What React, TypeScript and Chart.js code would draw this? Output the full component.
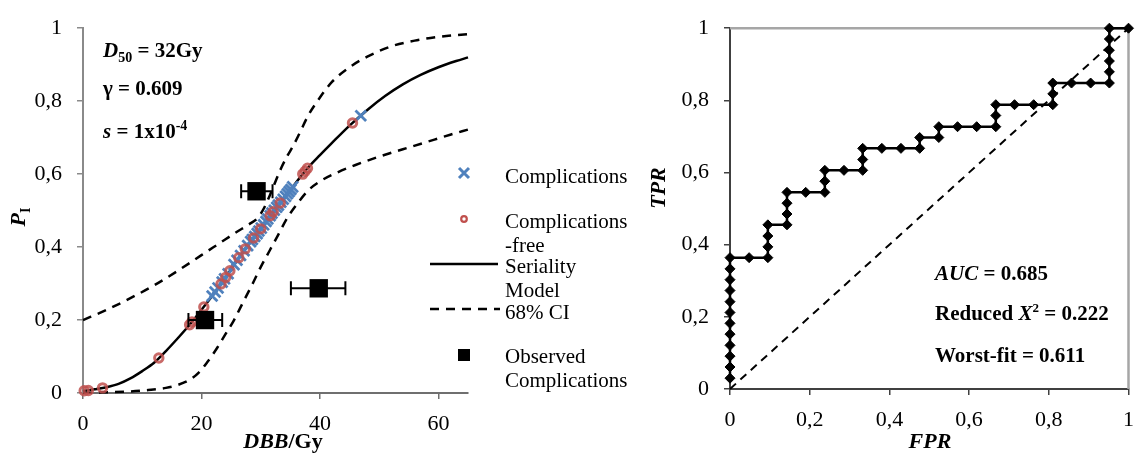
import React, { useEffect, useRef } from 'react';
import { Chart, registerables } from 'chart.js';

Chart.register(...registerables);

// ---------------- Data (left: dose–response) ----------------
const leftXTicks = [0, 20, 40, 60];
const probTicks = [0, 0.2, 0.4, 0.6, 0.8, 1];

const modelDose = [0, 2, 4, 6, 8, 10, 12, 14, 16, 18, 20, 22, 24, 26, 28, 30, 32, 34, 36, 38, 40, 42, 45, 48, 51, 54, 57, 60, 63, 65];
const modelProb = [0.005, 0.010, 0.016, 0.025, 0.040, 0.060, 0.083, 0.115, 0.150, 0.187, 0.228, 0.270, 0.315, 0.364, 0.408, 0.450, 0.495, 0.535, 0.578, 0.618, 0.652, 0.685, 0.733, 0.776, 0.814, 0.846, 0.872, 0.893, 0.910, 0.920];

const ciUpperDose = [0, 4, 8, 12, 16, 20, 23, 26, 28, 29.5, 30.5, 31.5, 32.5, 33.5, 34.5, 35.5, 36.5, 38, 40, 42, 45, 48, 52, 56, 60, 65];
const ciUpperProb = [0.2, 0.228, 0.26, 0.295, 0.335, 0.378, 0.41, 0.442, 0.462, 0.48, 0.505, 0.54, 0.58, 0.618, 0.65, 0.678, 0.71, 0.76, 0.81, 0.852, 0.893, 0.922, 0.95, 0.966, 0.976, 0.984];

const ciLowerDose = [0, 4, 8, 11, 14, 16, 18, 19.5, 21, 22.5, 24, 25.5, 27, 28.5, 30, 31.5, 33, 34.5, 36, 38, 40, 43, 46, 50, 54, 58, 62, 65];
const ciLowerProb = [0, 0.002, 0.004, 0.008, 0.014, 0.022, 0.036, 0.055, 0.085, 0.12, 0.16, 0.2, 0.248, 0.295, 0.345, 0.39, 0.435, 0.48, 0.515, 0.555, 0.58, 0.605, 0.625, 0.648, 0.668, 0.688, 0.708, 0.722];

const compDose = [21.8, 22.3, 22.8, 23.5, 23.9, 24.5, 25.5, 26.0, 26.6, 27.2, 27.8, 28.3, 28.6, 29.0, 29.4, 29.7, 30.1, 30.5, 30.9, 31.2, 31.6, 31.9, 32.3, 32.7, 33.0, 33.4, 33.8, 34.2, 34.5, 34.8, 35.1, 35.4, 46.9];
const compProb = [0.266, 0.277, 0.288, 0.304, 0.313, 0.327, 0.352, 0.364, 0.377, 0.390, 0.404, 0.415, 0.421, 0.429, 0.437, 0.444, 0.452, 0.461, 0.470, 0.477, 0.486, 0.493, 0.501, 0.509, 0.515, 0.523, 0.531, 0.539, 0.546, 0.552, 0.558, 0.565, 0.760];

const freeDose = [0.2, 0.9, 3.3, 12.8, 18.0, 18.4, 20.4, 23.3, 24.1, 24.8, 26.3, 27.4, 28.8, 30.0, 31.6, 32.1, 33.3, 37.1, 37.5, 37.9, 45.5];
const freeProb = [0.006, 0.007, 0.014, 0.096, 0.187, 0.195, 0.236, 0.299, 0.317, 0.335, 0.371, 0.395, 0.425, 0.450, 0.486, 0.497, 0.521, 0.600, 0.608, 0.616, 0.740];

const obsDose = [20.6, 29.3, 39.8];
const obsProb = [0.20, 0.553, 0.287];
const obsDoseLow = [17.8, 26.7, 35.1];
const obsDoseHigh = [23.5, 32.0, 44.3];

// ---------------- Data (right: ROC) ----------------
const rateTicks = [0, 0.2, 0.4, 0.6, 0.8, 1];
const rocFPR = [
  0, 0, 0, 0, 0, 0, 0, 0, 0, 0, 0, 0,
  0.048, 0.095,
  0.095, 0.095, 0.095,
  0.143, 0.143, 0.143, 0.143,
  0.190, 0.238,
  0.238, 0.238,
  0.286, 0.333,
  0.333, 0.333,
  0.381, 0.429, 0.476,
  0.476,
  0.524,
  0.524,
  0.571, 0.619, 0.667,
  0.667, 0.667,
  0.714, 0.762, 0.810,
  0.810, 0.810,
  0.857, 0.905, 0.952,
  0.952, 0.952, 0.952, 0.952, 0.952,
  1,
];
const rocTPR = [
  0.030, 0.061, 0.091, 0.121, 0.152, 0.182, 0.212, 0.242, 0.273, 0.303, 0.333, 0.364,
  0.364, 0.364,
  0.394, 0.424, 0.455,
  0.455, 0.485, 0.515, 0.545,
  0.545, 0.545,
  0.576, 0.606,
  0.606, 0.606,
  0.636, 0.667,
  0.667, 0.667, 0.667,
  0.697,
  0.697,
  0.727,
  0.727, 0.727, 0.727,
  0.758, 0.788,
  0.788, 0.788, 0.788,
  0.818, 0.848,
  0.848, 0.848, 0.848,
  0.879, 0.909, 0.939, 0.970, 1,
  1,
];
const chanceFPR = [0, 1];
const chanceTPR = [0, 1];

// ---------------- helpers ----------------
const SERIF = '"Liberation Serif", "Times New Roman", serif';
const fnt = (style: string, size: number) => `${style} ${size}px ${SERIF}`;
const pts = (xs: number[], ys: number[]) => xs.map((x, i) => ({ x, y: ys[i] }));
const commaLabel = (v: number) => (v === 0 ? '0' : v === 1 ? '1' : v.toFixed(1).replace('.', ','));

type Seg = { t: string; font: string; dy?: number };
function drawRich(ctx: CanvasRenderingContext2D, x: number, y: number, segs: Seg[], align: 'left' | 'center' = 'left') {
  ctx.textAlign = 'left';
  ctx.textBaseline = 'alphabetic';
  let w = 0;
  segs.forEach((s) => {
    ctx.font = s.font;
    w += ctx.measureText(s.t).width;
  });
  let cx = align === 'center' ? x - w / 2 : x;
  segs.forEach((s) => {
    ctx.font = s.font;
    ctx.fillText(s.t, cx, y + (s.dy || 0));
    cx += ctx.measureText(s.t).width;
  });
}

const tickFont = { family: SERIF, size: 22 };

function DoseResponseChart() {
  const ref = useRef<HTMLCanvasElement>(null);
  useEffect(() => {
    const canvas = ref.current!;
    const overlay = {
      id: 'leftOverlay',
      afterDatasetsDraw(chart: any) {
        const ctx = chart.ctx as CanvasRenderingContext2D;
        const xs = chart.scales.x;
        const ys = chart.scales.y;
        ctx.save();
        ctx.strokeStyle = '#000';
        ctx.lineWidth = 2;
        obsDose.forEach((_, i) => {
          const y = ys.getPixelForValue(obsProb[i]);
          const x1 = xs.getPixelForValue(obsDoseLow[i]);
          const x2 = xs.getPixelForValue(obsDoseHigh[i]);
          ctx.beginPath();
          ctx.moveTo(x1, y);
          ctx.lineTo(x2, y);
          ctx.moveTo(x1, y - 7);
          ctx.lineTo(x1, y + 7);
          ctx.moveTo(x2, y - 7);
          ctx.lineTo(x2, y + 7);
          ctx.stroke();
        });
        ctx.restore();
      },
      afterDraw(chart: any) {
        const ctx = chart.ctx as CanvasRenderingContext2D;
        ctx.save();
        ctx.fillStyle = '#000';
        // parameter annotations
        drawRich(ctx, 103, 57, [
          { t: 'D', font: fnt('italic bold', 21) },
          { t: '50', font: fnt('bold', 14), dy: 5 },
          { t: ' = 32Gy', font: fnt('bold', 21) },
        ]);
        drawRich(ctx, 103, 95, [{ t: 'γ = 0.609', font: fnt('bold', 21) }]);
        drawRich(ctx, 103, 138, [
          { t: 's', font: fnt('italic bold', 21) },
          { t: ' = 1x10', font: fnt('bold', 21) },
          { t: '-4', font: fnt('bold', 14), dy: -8 },
        ]);
        // axis titles
        drawRich(ctx, 283, 448, [
          { t: 'DBB', font: fnt('italic bold', 22) },
          { t: '/Gy', font: fnt('bold', 22) },
        ], 'center');
        ctx.save();
        ctx.translate(25, 217);
        ctx.rotate(-Math.PI / 2);
        drawRich(ctx, 0, 0, [
          { t: 'P', font: fnt('italic bold', 22) },
          { t: 'I', font: fnt('bold', 14), dy: 5 },
        ], 'center');
        ctx.restore();

        // legend
        const lx = 464;
        const tx = 505;
        const lf = fnt('normal', 21);
        ctx.strokeStyle = '#4f81bd';
        ctx.lineWidth = 3;
        ctx.beginPath();
        ctx.moveTo(lx - 5, 168); ctx.lineTo(lx + 5, 178);
        ctx.moveTo(lx + 5, 168); ctx.lineTo(lx - 5, 178);
        ctx.stroke();
        drawRich(ctx, tx, 183, [{ t: 'Complications', font: lf }]);

        ctx.strokeStyle = '#c0504d';
        ctx.lineWidth = 2.2;
        ctx.beginPath();
        ctx.arc(lx, 219, 2.8, 0, Math.PI * 2);
        ctx.stroke();
        drawRich(ctx, tx, 228, [{ t: 'Complications', font: lf }]);
        drawRich(ctx, tx, 252, [{ t: '-free', font: lf }]);

        ctx.strokeStyle = '#000';
        ctx.lineWidth = 2.5;
        ctx.beginPath();
        ctx.moveTo(430, 264); ctx.lineTo(498, 264);
        ctx.stroke();
        drawRich(ctx, tx, 273, [{ t: 'Seriality', font: lf }]);
        drawRich(ctx, tx, 297, [{ t: 'Model', font: lf }]);

        ctx.setLineDash([9, 7]);
        ctx.beginPath();
        ctx.moveTo(430, 309); ctx.lineTo(500, 309);
        ctx.stroke();
        ctx.setLineDash([]);
        drawRich(ctx, tx, 319, [{ t: '68% CI', font: lf }]);

        ctx.fillRect(458, 349, 12, 12);
        drawRich(ctx, tx, 363, [{ t: 'Observed', font: lf }]);
        drawRich(ctx, tx, 387, [{ t: 'Complications', font: lf }]);
        ctx.restore();
      },
    };

    const chart = new Chart(canvas, {
      type: 'scatter',
      data: {
        datasets: [
          {
            label: 'Observed Complications',
            data: pts(obsDose, obsProb),
            pointStyle: 'rect',
            pointRadius: 13,
            pointBackgroundColor: '#000',
            pointBorderColor: '#000',
            pointBorderWidth: 0,
            order: 0,
            clip: false,
          },
          {
            label: 'Complications-free',
            data: pts(freeDose, freeProb),
            pointStyle: 'circle',
            pointRadius: 4.2,
            pointBorderWidth: 3,
            pointBorderColor: 'rgba(192,80,77,0.85)',
            pointBackgroundColor: 'rgba(0,0,0,0)',
            order: 1,
            clip: false,
          },
          {
            label: 'Complications',
            data: pts(compDose, compProb),
            pointStyle: 'crossRot',
            pointRadius: 7.5,
            pointBorderWidth: 2.8,
            pointBorderColor: '#4f81bd',
            order: 2,
            clip: false,
          },
          {
            label: 'Seriality Model',
            data: pts(modelDose, modelProb),
            showLine: true,
            borderColor: '#000',
            borderWidth: 2.5,
            pointRadius: 0,
            cubicInterpolationMode: 'monotone',
            order: 3,
            clip: false,
          },
          {
            label: '68% CI upper',
            data: pts(ciUpperDose, ciUpperProb),
            showLine: true,
            borderColor: '#000',
            borderWidth: 2.5,
            borderDash: [9, 7],
            pointRadius: 0,
            cubicInterpolationMode: 'monotone',
            order: 4,
            clip: false,
          },
          {
            label: '68% CI lower',
            data: pts(ciLowerDose, ciLowerProb),
            showLine: true,
            borderColor: '#000',
            borderWidth: 2.5,
            borderDash: [9, 7],
            pointRadius: 0,
            cubicInterpolationMode: 'monotone',
            order: 5,
            clip: false,
          },
        ] as any,
      },
      options: {
        animation: false,
        responsive: false,
        maintainAspectRatio: false,
        devicePixelRatio: 1,
        events: [],
        layout: { padding: { left: 0, right: 162, top: 24, bottom: 0 } },
        plugins: { legend: { display: false }, tooltip: { enabled: false } },
        scales: {
          x: {
            type: 'linear',
            min: 0,
            max: 65,
            afterBuildTicks: (s: any) => { s.ticks = leftXTicks.map((v) => ({ value: v })); },
            afterFit: (s: any) => { s.height = 61; },
            grid: { display: true, drawOnChartArea: false, drawTicks: true, tickLength: 6, color: '#6f6f6f', lineWidth: 1.5 },
            border: { display: true, color: '#6f6f6f', width: 2 },
            ticks: { font: tickFont, color: '#000', padding: 12, maxRotation: 0, callback: (v: any) => String(v) },
          },
          y: {
            type: 'linear',
            min: 0,
            max: 1,
            afterBuildTicks: (s: any) => { s.ticks = probTicks.map((v) => ({ value: v })); },
            afterFit: (s: any) => { s.width = 83; },
            grid: { display: true, drawOnChartArea: false, drawTicks: true, tickLength: 6, color: '#8a8a8a', lineWidth: 1.5 },
            border: { display: true, color: '#8a8a8a', width: 2 },
            ticks: { font: tickFont, color: '#000', padding: 15, callback: (v: any) => commaLabel(Number(v)) },
          },
        },
      } as any,
      plugins: [overlay],
    });
    return () => chart.destroy();
  }, []);
  return <canvas ref={ref} width={630} height={454} style={{ display: 'block', width: 630, height: 454 }} />;
}

function RocChart() {
  const ref = useRef<HTMLCanvasElement>(null);
  useEffect(() => {
    const canvas = ref.current!;
    const overlay = {
      id: 'rocOverlay',
      beforeDatasetsDraw(chart: any) {
        const ctx = chart.ctx as CanvasRenderingContext2D;
        const a = chart.chartArea;
        ctx.save();
        ctx.strokeStyle = '#a6a6a6';
        ctx.lineWidth = 2.5;
        ctx.beginPath();
        ctx.moveTo(a.left, a.top);
        ctx.lineTo(a.right, a.top);
        ctx.lineTo(a.right, a.bottom);
        ctx.stroke();
        ctx.restore();
      },
      afterDraw(chart: any) {
        const ctx = chart.ctx as CanvasRenderingContext2D;
        ctx.save();
        ctx.fillStyle = '#000';
        const bf = fnt('bold', 21);
        drawRich(ctx, 305, 280, [
          { t: 'AUC', font: fnt('italic bold', 21) },
          { t: ' = 0.685', font: bf },
        ]);
        drawRich(ctx, 305, 320, [
          { t: 'Reduced ', font: bf },
          { t: 'X', font: fnt('italic bold', 21) },
          { t: '2', font: fnt('bold', 13), dy: -8 },
          { t: ' = 0.222', font: bf },
        ]);
        drawRich(ctx, 305, 362, [{ t: 'Worst-fit = 0.611', font: bf }]);
        drawRich(ctx, 300, 448, [{ t: 'FPR', font: fnt('italic bold', 22) }], 'center');
        ctx.save();
        ctx.translate(35, 188);
        ctx.rotate(-Math.PI / 2);
        drawRich(ctx, 0, 0, [{ t: 'TPR', font: fnt('italic bold', 22) }], 'center');
        ctx.restore();
        ctx.restore();
      },
    };
    const chart = new Chart(canvas, {
      type: 'scatter',
      data: {
        datasets: [
          {
            label: 'ROC',
            data: pts(rocFPR, rocTPR),
            showLine: true,
            borderColor: '#000',
            borderWidth: 2.5,
            pointStyle: 'rectRot',
            pointRadius: 5,
            pointBackgroundColor: '#000',
            pointBorderColor: '#000',
            pointBorderWidth: 1,
            order: 0,
            clip: false,
          },
          {
            label: 'Chance',
            data: pts(chanceFPR, chanceTPR),
            showLine: true,
            borderColor: '#000',
            borderWidth: 2,
            borderDash: [8, 6],
            pointRadius: 0,
            order: 1,
            clip: false,
          },
        ] as any,
      },
      options: {
        animation: false,
        responsive: false,
        maintainAspectRatio: false,
        devicePixelRatio: 1,
        events: [],
        layout: { padding: { left: 0, right: 12, top: 16, bottom: 0 } },
        plugins: { legend: { display: false }, tooltip: { enabled: false } },
        scales: {
          x: {
            type: 'linear',
            min: 0,
            max: 1,
            afterBuildTicks: (s: any) => { s.ticks = rateTicks.map((v) => ({ value: v })); },
            afterFit: (s: any) => { s.height = 65; },
            grid: { display: true, drawOnChartArea: false, drawTicks: true, tickLength: 6, color: '#404040', lineWidth: 1.5 },
            border: { display: true, color: '#404040', width: 2 },
            ticks: { font: tickFont, color: '#000', padding: 12, maxRotation: 0, callback: (v: any) => commaLabel(Number(v)) },
          },
          y: {
            type: 'linear',
            min: 0,
            max: 1,
            afterBuildTicks: (s: any) => { s.ticks = rateTicks.map((v) => ({ value: v })); },
            afterFit: (s: any) => { s.width = 100; },
            grid: { display: true, drawOnChartArea: false, drawTicks: true, tickLength: 6, color: '#404040', lineWidth: 1.5 },
            border: { display: true, color: '#404040', width: 2 },
            ticks: { font: tickFont, color: '#000', padding: 15, callback: (v: any) => commaLabel(Number(v)) },
          },
        },
      } as any,
      plugins: [overlay],
    });
    return () => chart.destroy();
  }, []);
  return <canvas ref={ref} width={516} height={454} style={{ display: 'block', width: 516, height: 454 }} />;
}

export default function App() {
  return (
    <div style={{ position: 'absolute', left: 0, top: 0, width: 1146, height: 454, display: 'flex', background: '#fff' }}>
      <DoseResponseChart />
      <RocChart />
    </div>
  );
}
